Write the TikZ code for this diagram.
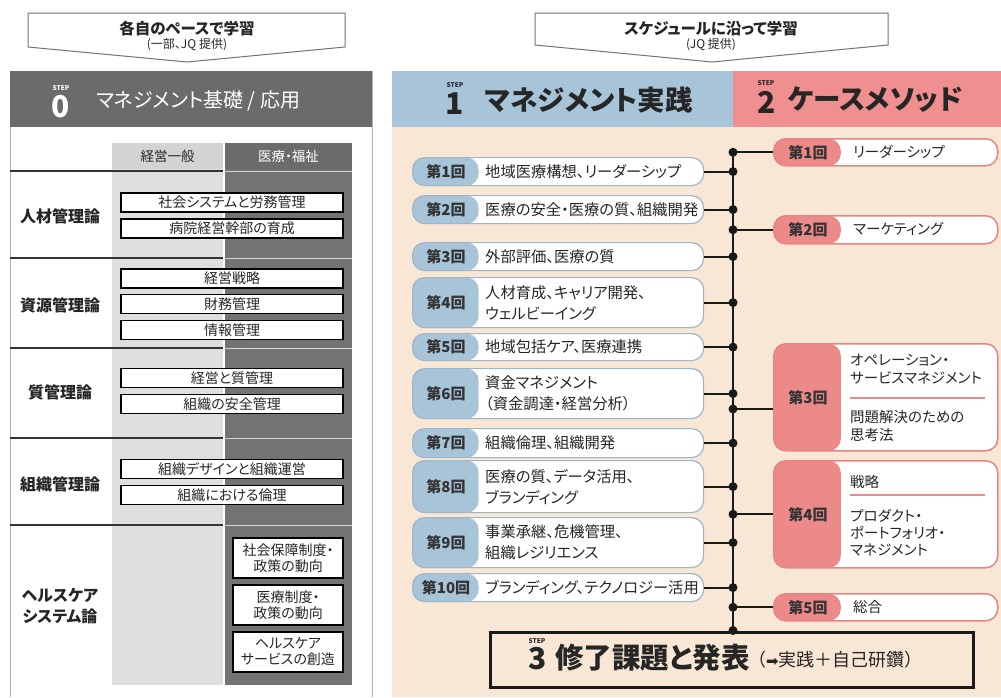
\documentclass[tikz,border=0pt]{standalone}
\usepackage{fontspec}
\setmainfont{Noto Sans CJK JP}[RawFeature=+palt]
\newfontfamily\dvfont{DejaVu Sans}
\usetikzlibrary{calc}
\definecolor{peach}{HTML}{F9E7D5}
\definecolor{bluehd}{HTML}{A7C4D9}
\definecolor{pinkhd}{HTML}{EF8F8F}
\definecolor{lblue}{HTML}{A8C4D9}
\definecolor{bborder}{HTML}{9DB6CA}
\definecolor{lpink}{HTML}{EC8A8A}
\definecolor{pborder}{HTML}{E98484}
\definecolor{darkhd}{HTML}{6B6B6B}
\definecolor{darkcol}{HTML}{737373}
\definecolor{lightcol}{HTML}{DEDEDE}
\definecolor{lighthd}{HTML}{D3D3D3}
\definecolor{txt}{HTML}{262626}
\newcommand\FSz[2]{\fontsize{#1}{#2}\selectfont}
\newcommand\Sone[5]{%
  \node[sone, minimum height=#3] (#1) at (412,#2) {};
  \node[slab] at ([xshift=34pt]#1.west) {#4};
  \node[stxt] at ([xshift=73pt]#1.west) {#5};}
\newcommand\Stwo[4]{%
  \node[stwo, minimum height=#3] (#1) at (773,#2) {};
  \node[slab] at ([xshift=35pt]#1.west) {#4};}
\begin{document}
\begin{tikzpicture}[x=1pt,y=-1pt,
  banner/.style={draw=black!55, line width=1, fill=white},
  btitle/.style={font=\FSz{15.5}{18}\bfseries, text=txt, inner sep=0},
  bsub/.style={font=\FSz{12}{14}, text=txt, inner sep=0},
  stepw/.style={font=\FSz{6.5}{6.5}\bfseries, inner sep=0},
  digit/.style={font=\FSz{30}{30}\bfseries, inner sep=0, text=black!85},
  htitle/.style={font=\FSz{27.5}{27.5}\bfseries, inner sep=0, anchor=west, text=black!85},
  sep/.style={draw=black!80, line width=1.5},
  sepd/.style={draw=white!70!darkcol, line width=1},
  colhd/.style={font=\FSz{13.5}{14}, inner sep=0},
  rowlab/.style={font=\FSz{16}{21}\bfseries, text=txt, inner sep=0, align=center},
  wbox/.style={draw=black, line width=1.3, fill=white, minimum width=222, minimum height=19, inner sep=0, font=\FSz{14}{16}, text=txt},
  nbox/.style={draw=black, line width=1.3, fill=white, minimum width=110, minimum height=40, inner sep=0, font=\FSz{14}{16}, text=txt, align=center},
  sone/.style={draw=bborder, line width=1.2, fill=white, rounded corners=12, minimum width=291, inner sep=0, anchor=north west,
    path picture={\fill[lblue] (path picture bounding box.north west) rectangle ([xshift=66pt]path picture bounding box.south west);}},
  stwo/.style={draw=pborder, line width=1.5, fill=white, rounded corners=12, minimum width=224, inner sep=0, anchor=north west,
    path picture={\fill[lpink] (path picture bounding box.north west) rectangle ([xshift=67pt]path picture bounding box.south west);}},
  slab/.style={font=\FSz{15}{15}\bfseries, text=black!80, inner sep=0},
  stxt/.style={font=\FSz{15.3}{21}, text=txt, inner sep=0, anchor=west, align=left},
  ttxt/.style={font=\FSz{14.5}{18}, text=txt, inner sep=0, anchor=west, align=left},
  conn/.style={draw=black!90, line width=2},
  dot/.style={circle, fill=black!90, inner sep=0, minimum size=9},
  psep/.style={draw=lpink, line width=1.2}
]
\useasboundingbox (0,0) rectangle (1001,697);
\fill[white] (0,0) rectangle (1001,697);

% ---- banners ----
\draw[banner] (28,13) -- (345,13) -- (345,47) -- (187,62) -- (28,47) -- cycle;
\node[btitle] (lbt) at (187,29) {各自のペースで学習};
\node[bsub] (lbs) at (187,45) {(一部、JQ 提供)};
\draw[banner] (535,13) -- (888,13) -- (888,45) -- (712,62) -- (535,45) -- cycle;
\node[btitle] (rbt) at (711,29) {スケジュールに沿って学習};
\node[bsub] (rbs) at (711,45) {(JQ 提供)};

% ---- left panel ----
\fill[white] (10,71) rectangle (372,697);
\draw[black!30, line width=1] (10,71) -- (10,697) (372,71) -- (372,697);
\fill[darkhd] (10,71) rectangle (372,127);
\node[stepw, text=white] (st0) at (61,88) {STEP};
\node[digit, text=white] (d0) at (61,107) {0};
\node[font=\FSz{20}{20}, text=white, anchor=west, inner sep=0] (h0) at (96,101) {マネジメント基礎 / 応用};

\fill[lighthd] (112,143) rectangle (223,169);
\fill[lightcol] (112,169) rectangle (223,685);
\fill[darkhd] (225,143) rectangle (352,169);
\fill[darkcol] (225,169) rectangle (352,685);
\node[colhd, text=txt] (ch1) at (167.5,156) {経営一般};
\node[colhd, text=white] (ch2) at (288.5,156) {医療・福祉};

\foreach \yy in {171,258,348,438,525}{
  \draw[sep] (10,\yy) -- (223,\yy);
  \draw[sepd] (225,\yy) -- (352,\yy);
}

\node[rowlab] (r1) at (60,216) {人材管理論};
\node[rowlab] (r2) at (60,305) {資源管理論};
\node[rowlab] (r3) at (60,392) {質管理論};
\node[rowlab] (r4) at (60,484) {組織管理論};
\node[rowlab] (r5) at (60,606) {ヘルスケア\\システム論};

\node[wbox] (w1) at (232,202.5) {社会システムと労務管理};
\node[wbox] (w2) at (232,228.5) {病院経営幹部の育成};
\node[wbox] (w3) at (232,278.5) {経営戦略};
\node[wbox] (w4) at (232,304) {財務管理};
\node[wbox] (w5) at (232,330) {情報管理};
\node[wbox] (w6) at (232,378) {経営と質管理};
\node[wbox] (w7) at (232,404) {組織の安全管理};
\node[wbox] (w8) at (232,469) {組織デザインと組織運営};
\node[wbox] (w9) at (232,495) {組織における倫理};
\node[nbox] (n1) at (288,558) {社会保障制度・\\政策の動向};
\node[nbox] (n2) at (288,605) {医療制度・\\政策の動向};
\node[nbox] (n3) at (288,652) {ヘルスケア\\サービスの創造};

% ---- right panel ----
\fill[peach] (392,127) rectangle (1001,697);
\fill[bluehd] (392,71) rectangle (733,127);
\fill[pinkhd] (733,71) rectangle (1001,127);
\node[stepw, text=black!85] (st1) at (455,85) {STEP};
\node[digit] (d1) at (455,104) {1};
\node[htitle] (h1) at (485,100) {マネジメント実践};
\node[stepw, text=black!85] (st2) at (766,83) {STEP};
\node[digit] (d2) at (767,102) {2};
\node[htitle] (h2) at (788,100) {ケースメソッド};

% STEP1 sessions
\Sone{a1}{157}{28}{第1回}{地域医療構想、リーダーシップ}
\Sone{a2}{195}{28}{第2回}{医療の安全・医療の質、組織開発}
\Sone{a3}{242}{28}{第3回}{外部評価、医療の質}
\Sone{a4}{277}{50}{第4回}{人材育成、キャリア開発、\\ウェルビーイング}
\Sone{a5}{333}{27}{第5回}{地域包括ケア、医療連携}
\Sone{a6}{368}{50}{第6回}{資金マネジメント\\（資金調達・経営分析）}
\Sone{a7}{428}{29}{第7回}{組織倫理、組織開発}
\Sone{a8}{460}{52}{第8回}{医療の質、データ活用、\\ブランディング}
\Sone{a9}{517}{50}{第9回}{事業承継、危機管理、\\組織レジリエンス}
\Sone{a10}{573}{28}{第10回}{ブランディング、テクノロジー活用}

% STEP2 sessions
\Stwo{b1}{138}{27}{第1回}
\node[ttxt] (b1t) at (853,151.5) {リーダーシップ};
\Stwo{b2}{215}{28}{第2回}
\node[ttxt] (b2t) at (853,229) {マーケティング};
\Stwo{b3}{343}{107}{第3回}
\node[ttxt] (b3t) at (850,369) {オペレーション・\\サービスマネジメント};
\draw[psep] (850,398) -- (985,398);
\node[ttxt] (b3u) at (850,426) {問題解決のための\\思考法};
\Stwo{b4}{460}{107}{第4回}
\node[ttxt] (b4t) at (850,482) {戦略};
\draw[psep] (850,495) -- (985,495);
\node[ttxt, font=\FSz{14.5}{17}] (b4u) at (850,533) {プロダクト・\\ポートフォリオ・\\マネジメント};
\Stwo{b5}{593}{27}{第5回}
\node[ttxt] (b5t) at (853,606.5) {総合};

% STEP3
\node[draw=black!90, line width=3, fill=peach, minimum width=483, minimum height=55, inner sep=0] (s3) at (731.5,659.5) {};
\node[stepw, text=black!85] (st3) at (537,641) {STEP};
\node[digit] (d3) at (538,659) {3};
\node[htitle, font=\FSz{28.5}{28.5}\bfseries] (h3) at (555,658) {修了課題と発表};
\node[font=\FSz{18}{18}, text=txt, inner sep=0, anchor=west] (h3b) at (757,660) {（{\dvfont\FSz{15}{15}➡}実践＋自己研鑽）};

% bus
\coordinate (bt) at (733,151.5);
\coordinate (bb) at (s3.north -| bt);
\draw[conn] (bt) -- (bb);
\foreach \n in {a1,a2,a3,a4,a5,a6,a7,a8,a9,a10}{
  \coordinate (j\n) at (bt |- \n.east);
  \draw[conn] (\n.east) -- (j\n);
  \node[dot] at (j\n) {};
}
\foreach \n in {b1,b2,b4,b5}{
  \coordinate (k\n) at (bt |- \n.west);
  \draw[conn] (k\n) -- (\n.west);
  \node[dot] at (k\n) {};
}
\coordinate (kb3) at (733,409);
\draw[conn] (kb3) -- (b3.west |- kb3);
\node[dot] at (kb3) {};
\node[dot] at (bb) {};
\end{tikzpicture}
\end{document}
